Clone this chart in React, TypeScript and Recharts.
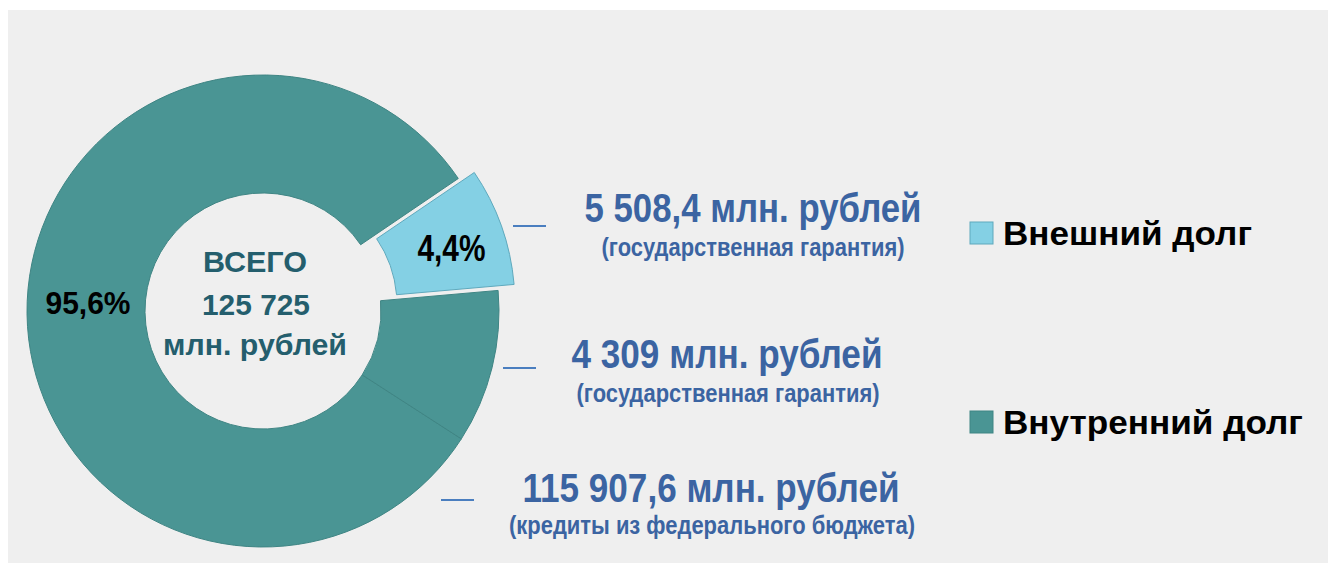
import React from "react";
import { PieChart, Pie, Cell } from "recharts";

// slice order: external debt (exploded), federal budget credits, internal guarantees
const sliceNames = ["Внешний долг", "Кредиты из федерального бюджета", "Внутренние гарантии"];
// share of the circle
const sliceShare = [8.1, 81.4, 10.5];
const sliceColors = ["#84d0e4", "#4a9594", "#4a9594"];
const slicePctLabels = ["4,4%", "95,6%", ""];

const amountLabels = ["5 508,4 млн. рублей", "4 309 млн. рублей", "115 907,6 млн. рублей"];
const amountNotes = ["(государственная гарантия)", "(государственная гарантия)", "(кредиты из федерального бюджета)"];

const legendNames = ["Внешний долг", "Внутренний долг"];
const legendColors = ["#84d0e4", "#4a9594"];

const centerLines = ["ВСЕГО", "125 725", "млн. рублей"];

const data = sliceNames.map((name, i) => ({ name, value: sliceShare[i] }));

const NARROW = "'Liberation Sans Narrow', 'Arial Narrow', 'Liberation Sans', Arial, sans-serif";
const WIDE = "'Liberation Sans', Arial, sans-serif";

const RAD = Math.PI / 180;

function PctLabel(props: any) {
  const { cx, cy, midAngle, index, exploded } = props;
  const text = slicePctLabels[index];
  if (!text) return null;
  if (exploded ? index !== 0 : index === 0) return null;
  const r = exploded ? 183 : 175;
  const x = cx + r * Math.cos(-midAngle * RAD);
  const y = cy + r * Math.sin(-midAngle * RAD);
  return (
    <text
      x={x}
      y={y + (exploded ? 17 : 1)}
      textAnchor="middle"
      fontFamily={NARROW}
      fontWeight="bold"
      fontSize={exploded ? 36 : 32}
      fill="#000"
      textLength={exploded ? 68 : 85}
      lengthAdjust="spacingAndGlyphs"
    >
      {text}
    </text>
  );
}

export default function App() {
  const cx = 263;
  const cy = 311;
  return (
    <div style={{ position: "relative", width: 1336, height: 572, margin: -8, background: "#fff", overflow: "hidden" }}>
      <div style={{ position: "absolute", left: 7, top: 10, width: 1323, height: 553, background: "#efefef" }} />
      <div style={{ position: "absolute", left: 0, top: 0 }}>
        <PieChart width={1336} height={572} margin={{ top: 0, right: 0, bottom: 0, left: 0 }}>
          <Pie
            data={data}
            dataKey="value"
            cx={cx}
            cy={cy}
            innerRadius={118}
            outerRadius={236}
            startAngle={5}
            endAngle={365}
            stroke="#3f8584"
            strokeWidth={1}
            isAnimationActive={false}
            labelLine={false}
            label={(p: any) => <PctLabel {...p} exploded={false} />}
          >
            {data.map((d, i) => (
              <Cell
                key={d.name}
                fill={i === 0 ? "transparent" : sliceColors[i]}
                stroke={i === 0 ? "none" : "#3f8584"}
              />
            ))}
          </Pie>
          <Pie
            data={data}
            dataKey="value"
            cx={cx + 16}
            cy={cy - 6}
            innerRadius={118}
            outerRadius={236}
            startAngle={5}
            endAngle={365}
            isAnimationActive={false}
            labelLine={false}
            label={(p: any) => <PctLabel {...p} exploded={true} />}
          >
            {data.map((d, i) => (
              <Cell
                key={d.name}
                fill={i === 0 ? sliceColors[0] : "transparent"}
                stroke={i === 0 ? "#5fa9bd" : "none"}
              />
            ))}
          </Pie>
        </PieChart>
      </div>
      <svg width={1336} height={572} style={{ position: "absolute", left: 0, top: 0, pointerEvents: "none" }}>
        {/* total in the hole */}
        <text x={255} y={272} textAnchor="middle" fontFamily={NARROW} fontWeight="bold" fontSize={30} fill="#245e6d" textLength={104} lengthAdjust="spacingAndGlyphs">
          {centerLines[0]}
        </text>
        <text x={256} y={315} textAnchor="middle" fontFamily={NARROW} fontWeight="bold" fontSize={30} fill="#245e6d" textLength={108} lengthAdjust="spacingAndGlyphs">
          {centerLines[1]}
        </text>
        <text x={255} y={355} textAnchor="middle" fontFamily={NARROW} fontWeight="bold" fontSize={30} fill="#245e6d" textLength={184} lengthAdjust="spacingAndGlyphs">
          {centerLines[2]}
        </text>

        {/* amounts on the right */}
        <line x1={513} y1={226} x2={546} y2={226} stroke="#4a7ebf" strokeWidth={2} />
        <line x1={503} y1={368} x2={536} y2={368} stroke="#4a7ebf" strokeWidth={2} />
        <line x1={441} y1={500} x2={474} y2={500} stroke="#4a7ebf" strokeWidth={2} />

        <text x={753} y={222} textAnchor="middle" fontFamily={NARROW} fontWeight="bold" fontSize={40} fill="#3b64a2" textLength={337} lengthAdjust="spacingAndGlyphs">
          {amountLabels[0]}
        </text>
        <text x={753} y={256} textAnchor="middle" fontFamily={NARROW} fontWeight="bold" fontSize={25} fill="#3b64a2" textLength={303} lengthAdjust="spacingAndGlyphs">
          {amountNotes[0]}
        </text>
        <text x={727} y={368} textAnchor="middle" fontFamily={NARROW} fontWeight="bold" fontSize={40} fill="#3b64a2" textLength={311} lengthAdjust="spacingAndGlyphs">
          {amountLabels[1]}
        </text>
        <text x={728} y={402} textAnchor="middle" fontFamily={NARROW} fontWeight="bold" fontSize={25} fill="#3b64a2" textLength={303} lengthAdjust="spacingAndGlyphs">
          {amountNotes[1]}
        </text>
        <text x={711} y={502} textAnchor="middle" fontFamily={NARROW} fontWeight="bold" fontSize={40} fill="#3b64a2" textLength={377} lengthAdjust="spacingAndGlyphs">
          {amountLabels[2]}
        </text>
        <text x={712} y={534} textAnchor="middle" fontFamily={NARROW} fontWeight="bold" fontSize={25} fill="#3b64a2" textLength={406} lengthAdjust="spacingAndGlyphs">
          {amountNotes[2]}
        </text>

        {/* legend */}
        {legendNames.map((name, i) => {
          const top = i === 0 ? 222 : 411;
          return (
            <g key={name}>
              <rect x={970} y={top} width={23} height={22} fill={legendColors[i]} stroke={i === 0 ? "#5fa9bd" : "#3f8584"} strokeWidth={1} />
              <text x={1003} y={top + 23} fontFamily={WIDE} fontWeight="bold" fontSize={33} fill="#000" textLength={i === 0 ? 249 : 300} lengthAdjust="spacingAndGlyphs">
                {name}
              </text>
            </g>
          );
        })}
      </svg>
    </div>
  );
}
